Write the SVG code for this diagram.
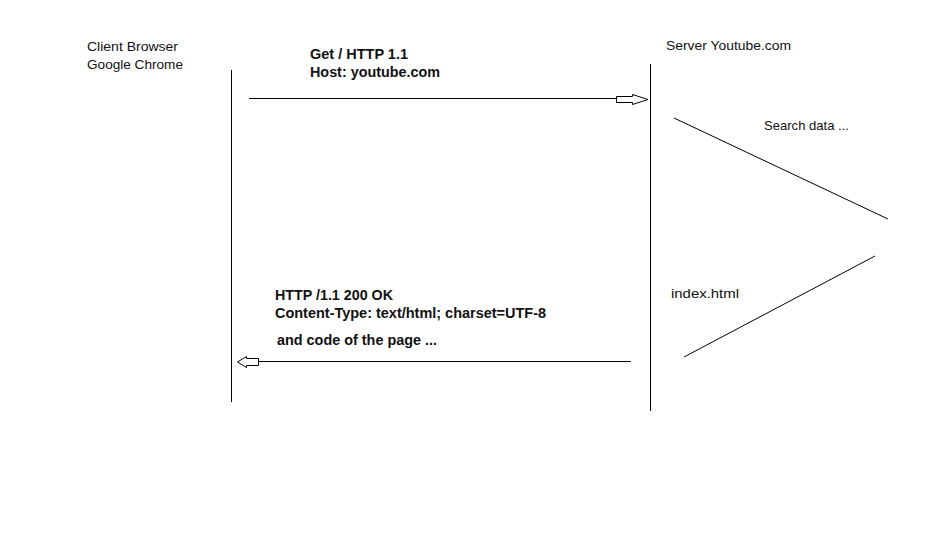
<svg xmlns="http://www.w3.org/2000/svg" width="938" height="540" viewBox="0 0 938 540">
<style>
text{font-family:"Liberation Sans",Arial,sans-serif;font-size:13.5px;fill:#111}
.b{font-weight:bold;font-size:14px}
.ln{stroke:#000;stroke-width:1;fill:none}
.ah{stroke:#000;stroke-width:1;fill:#fff}
</style>
<rect width="938" height="540" fill="#fff"/>
<g id="client">
<text x="87" y="51" textLength="91" lengthAdjust="spacingAndGlyphs">Client Browser</text>
<text x="87" y="69" textLength="96" lengthAdjust="spacingAndGlyphs">Google Chrome</text>
<line class="ln" x1="231.5" y1="70" x2="231.5" y2="402"/>
</g>
<g id="server">
<text x="666" y="50" textLength="125" lengthAdjust="spacingAndGlyphs">Server Youtube.com</text>
<line class="ln" x1="650.5" y1="64" x2="650.5" y2="411"/>
</g>
<g id="search">
<text x="764" y="130" textLength="85" lengthAdjust="spacingAndGlyphs">Search data ...</text>
</g>
<g id="index">
<text x="671" y="298" textLength="68" lengthAdjust="spacingAndGlyphs">index.html</text>
</g>
<g id="request-label">
<text class="b" x="310" y="59" textLength="98" lengthAdjust="spacingAndGlyphs">Get / HTTP 1.1</text>
<text class="b" x="310" y="77" textLength="130" lengthAdjust="spacingAndGlyphs">Host: youtube.com</text>
</g>
<g id="response-label">
<text class="b" x="275" y="300" textLength="118" lengthAdjust="spacingAndGlyphs">HTTP /1.1 200 OK</text>
<text class="b" x="275" y="318" textLength="271" lengthAdjust="spacingAndGlyphs">Content-Type: text/html; charset=UTF-8</text>
<text class="b" x="277" y="345" textLength="160" lengthAdjust="spacingAndGlyphs">and code of the page ...</text>
</g>
<g id="connectors">
<line class="ln" x1="249" y1="98.5" x2="616" y2="98.5"/>
<path class="ah" d="M616.5,96.5 H632.5 V94.5 L648,99.5 L632.5,104.5 V102.5 H616.5 Z"/>
<line class="ln" x1="631" y1="361.5" x2="258" y2="361.5"/>
<path class="ah" d="M258.5,358.5 H246.5 V356.5 L237.5,362 L246.5,367.5 V365.5 H258.5 Z"/>
<line class="ln" x1="674" y1="118" x2="888" y2="219"/>
<line class="ln" x1="875" y1="256" x2="684" y2="357"/>
</g>
</svg>
